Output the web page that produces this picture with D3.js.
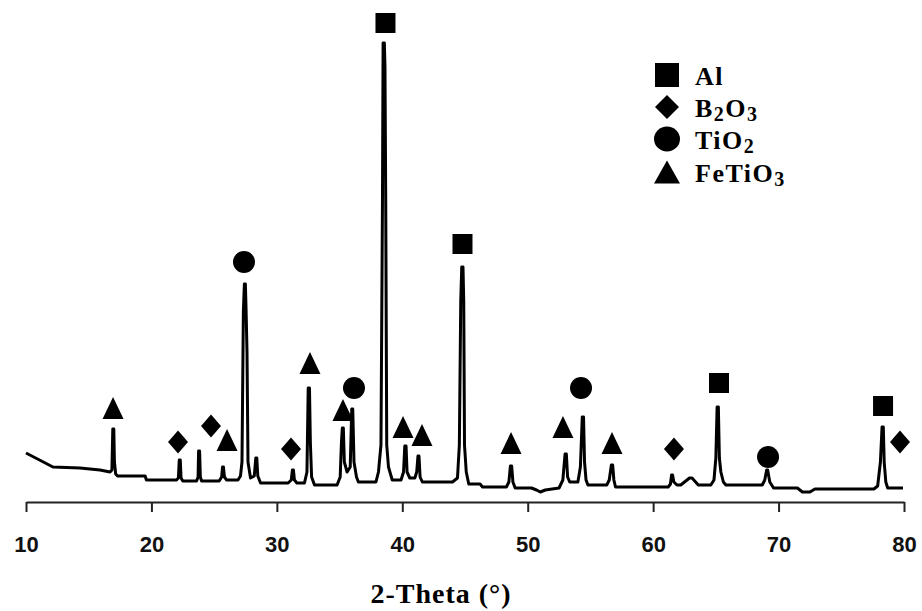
<!DOCTYPE html>
<html>
<head>
<meta charset="utf-8">
<script src="https://cdn.jsdelivr.net/npm/d3@7"></script>
<style>
  html, body { margin: 0; padding: 0; background: #fff; }
  svg { display: block; }
</style>
</head>
<body>
<svg id="chart" width="922" height="611"></svg>
<script>
// XRD pattern: 2-Theta (deg) and intensity (arbitrary counts)
const twoTheta = [
  10.0, 12.15, 14.3, 15.9, 16.7, 16.85, 16.92, 17.0, 17.05, 17.15, 17.3, 19.5, 19.6,
  22.0, 22.15, 22.22, 22.3, 22.36, 22.5, 23.6, 23.72, 23.76, 23.84, 23.9, 24.0,
  25.4, 25.6, 25.67, 25.74, 25.82, 26.0, 26.9, 27.1, 27.22, 27.33, 27.41, 27.49, 27.55,
  27.62, 27.7, 27.9, 28.2, 28.32, 28.4, 28.48, 28.7, 30.9, 31.15, 31.24, 31.32, 31.4,
  31.6, 32.2, 32.4, 32.5, 32.6, 32.67, 32.77, 33.0, 34.8, 35.05, 35.15, 35.22, 35.3,
  35.38, 35.6, 35.85, 35.97, 36.05, 36.15, 36.35, 36.5, 37.9, 38.1, 38.3, 38.42, 38.47,
  38.57, 38.62, 38.68, 38.76, 38.9, 39.2, 39.9, 40.1, 40.2, 40.3, 40.38, 40.6, 41.0,
  41.15, 41.25, 41.33, 41.42, 41.6, 44.0, 44.4, 44.55, 44.66, 44.74, 44.84, 44.9,
  44.96, 45.1, 45.3, 46.2, 46.4, 48.3, 48.5, 48.62, 48.72, 48.82, 49.0, 50.3, 50.7,
  51.0, 51.4, 52.5, 52.8, 52.98, 53.08, 53.18, 53.35, 54.0, 54.2, 54.35, 54.45, 54.53,
  54.65, 54.8, 56.3, 56.5, 56.67, 56.77, 56.87, 57.0, 61.2, 61.38, 61.47, 61.55,
  61.65, 61.9, 62.2, 62.9, 63.1, 63.6, 64.6, 64.85, 65.0, 65.1, 65.2, 65.28, 65.4,
  65.6, 65.8, 68.7, 68.9, 69.05, 69.13, 69.3, 69.6, 71.5, 71.9, 72.5, 72.9, 77.6,
  77.9, 78.12, 78.25, 78.35, 78.42, 78.55, 78.7, 79.92
];
const intensity = [
  49, 35, 34, 32, 30, 32, 73, 73, 40, 28, 26, 26, 22,
  22, 24, 42, 42, 24, 21, 21, 25, 51, 51, 25, 21,
  21, 25, 35, 35, 25, 22, 22, 26, 40, 190, 218, 218, 190,
  150, 40, 24, 26, 44, 44, 26, 19, 19, 22, 32, 32, 22,
  19, 19, 30, 114, 114, 60, 25, 17, 17, 25, 60, 74, 74,
  40, 30, 35, 93, 93, 40, 25, 20, 20, 30, 57, 300, 459,
  459, 435, 300, 57, 35, 22, 22, 30, 56, 56, 30, 24, 24,
  30, 46, 46, 25, 20, 20, 24, 57, 200, 235, 235, 200,
  57, 30, 18, 18, 15, 15, 20, 36, 36, 20, 14, 14, 12,
  10, 12, 14, 22, 48, 48, 25, 20, 20, 35, 85, 85, 40,
  22, 17, 17, 22, 37, 37, 22, 15, 15, 18, 27, 27,
  20, 17, 17, 24, 24, 17, 17, 22, 44, 95, 95, 44, 30,
  20, 17, 17, 22, 32, 32, 20, 14, 14, 10, 10, 13, 13,
  16, 40, 75, 75, 40, 20, 14, 14
];

// Phase reflections: [2-Theta, marker height]
const alPeaks     = [[38.66, 479], [44.80, 258], [65.25, 119], [78.33, 96]];
const b2o3Peaks   = [[22.12, 60], [24.75, 76], [31.13, 53], [61.66, 53], [79.68, 60]];
const tio2Peaks   = [[27.38, 240], [36.15, 114], [54.25, 114], [69.16, 45]];
const fetio3Peaks = [[16.94, 94], [26.03, 62], [32.64, 139], [35.27, 92], [40.06, 75],
                     [41.57, 67], [48.67, 59], [52.81, 75], [56.72, 59]];

const xTicks = [10, 20, 30, 40, 50, 60, 70, 80];
// Legend labels split into normal / subscript parts
const legendNames = [
  ["Al"],
  ["B", "2", "O", "3"],
  ["TiO", "2"],
  ["FeTiO", "3"]
];

const svg = d3.select("#chart");
const x = d3.scaleLinear().domain([10, 80]).range([26, 904]);
const y = d3.scaleLinear().domain([0, 460]).range([502, 42]);

// Marker outlines centred on (0,0); w = width, h = height in px
const shapes = {
  square:   (w, h) => `M${-w/2},${-h/2}H${w/2}V${h/2}H${-w/2}Z`,
  diamond:  (w, h) => `M0,${-h/2}L${w/2},0L0,${h/2}L${-w/2},0Z`,
  circle:   (w, h) => `M${w/2},0A${w/2},${h/2} 0 1,1 ${-w/2},0A${w/2},${h/2} 0 1,1 ${w/2},0Z`,
  triangle: (w, h) => `M0,${-h/2}L${w/2},${h/2}L${-w/2},${h/2}Z`
};

// Pattern line
const pts = twoTheta.map((t, i) => [t, intensity[i]]);
svg.append("path")
  .datum(pts)
  .attr("fill", "none")
  .attr("stroke", "#000")
  .attr("stroke-width", 3)
  .attr("stroke-linejoin", "round")
  .attr("d", d3.line().x(d => x(d[0])).y(d => y(d[1])));

// Phase markers
const phases = [
  {data: alPeaks, shape: "square", w: 20, h: 20},
  {data: b2o3Peaks, shape: "diamond", w: 20, h: 23},
  {data: tio2Peaks, shape: "circle", w: 22, h: 22},
  {data: fetio3Peaks, shape: "triangle", w: 21, h: 22}
];
phases.forEach(p => {
  svg.append("g").selectAll("path")
    .data(p.data)
    .join("path")
    .attr("transform", d => `translate(${x(d[0])},${y(d[1])})`)
    .attr("d", shapes[p.shape](p.w, p.h))
    .attr("fill", "#000");
});

// Bottom axis
const axis = svg.append("g")
  .attr("transform", "translate(0,502)")
  .call(d3.axisBottom(x).tickValues(xTicks).tickSize(10).tickSizeOuter(0).tickFormat(d3.format("d")));
axis.select(".domain").attr("stroke", "#222").attr("stroke-width", 2);
axis.selectAll(".tick line").attr("stroke", "#222").attr("stroke-width", 2);
axis.selectAll(".tick text")
  .attr("y", 50).attr("dy", 0)
  .attr("font-family", "'Liberation Sans', Arial, sans-serif")
  .attr("font-weight", "bold")
  .attr("font-size", 22)
  .attr("fill", "#111");

// Axis title
svg.append("text")
  .attr("x", 441).attr("y", 603)
  .attr("text-anchor", "middle")
  .attr("font-family", "'Liberation Serif', 'Times New Roman', serif")
  .attr("font-weight", "bold")
  .attr("font-size", 28)
  .attr("letter-spacing", 1)
  .text("2-Theta (°)");

// Legend
const legend = svg.append("g");
const legendShapes = ["square", "diamond", "circle", "triangle"];
const legendDims = [[24, 24], [24, 24], [26, 25], [26, 23]];
const rowY = [75, 107, 139, 172];
legendNames.forEach((parts, i) => {
  legend.append("path")
    .attr("transform", `translate(667,${rowY[i]})`)
    .attr("d", shapes[legendShapes[i]](legendDims[i][0], legendDims[i][1]))
    .attr("fill", "#000");
  const t = legend.append("text")
    .attr("x", 695).attr("y", rowY[i] + 10)
    .attr("font-family", "'Liberation Serif', 'Times New Roman', serif")
    .attr("font-weight", "bold")
    .attr("font-size", 26)
    .attr("letter-spacing", 1.5);
  parts.forEach((part, j) => {
    const sub = j % 2 === 1;
    t.append("tspan")
      .attr("font-size", sub ? 20 : 26)
      .attr("dy", sub ? 4 : (j > 0 ? -4 : 0))
      .text(part);
  });
});
</script>
</body>
</html>
